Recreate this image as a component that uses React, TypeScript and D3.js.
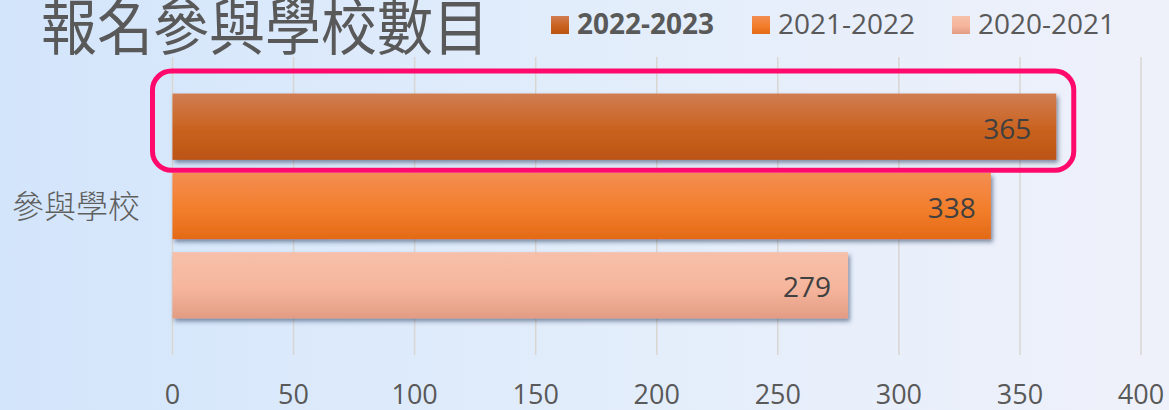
import React from "react";
import * as d3 from "d3";

const W = 1169;
const H = 410;

const title = "報名參與學校數目";
const category = "參與學校";
const seriesNames = ["2022-2023", "2021-2022", "2020-2021"];
const seriesValues = [365, 338, 279];
const xTicks = [0, 50, 100, 150, 200, 250, 300, 350, 400];
const seriesTop = ["#D17D52", "#F38D52", "#F7C0AA"];
const seriesMid = ["#C9621F", "#F37E2B", "#F5B59C"];
const seriesBottom = ["#BB5411", "#E36A16", "#E39C84"];
const labelInset = [25, 15, 17];
const legendX = [551, 752, 952];

export default function App() {
  const x = d3.scaleLinear().domain([0, 400]).range([172.5, 1141]);
  const y = d3
    .scaleBand<string>()
    .domain(seriesNames)
    .range([57, 355])
    .paddingInner(0.164)
    .paddingOuter(0.461);
  const bw = y.bandwidth();
  const firstY = y(seriesNames[0]) as number;
  const font = "'Open Sans', 'DejaVu Sans', sans-serif";
  const cjk = "'Noto Sans CJK TC', 'Noto Sans CJK SC', sans-serif";

  return (
    <svg
      width={W}
      height={H}
      style={{ position: "absolute", left: 0, top: 0, display: "block" }}
    >
      <defs>
        <linearGradient id="bg" x1="0" y1="0" x2="1" y2="0">
          <stop offset="0" stopColor="#D3E5FB" />
          <stop offset="0.5" stopColor="#E2EDFB" />
          <stop offset="1" stopColor="#EFF1FA" />
        </linearGradient>
        {seriesNames.map((s, i) => (
          <linearGradient key={s} id={`g${i}`} x1="0" y1="0" x2="0" y2="1">
            <stop offset="0" stopColor={seriesTop[i]} />
            <stop offset="0.55" stopColor={seriesMid[i]} />
            <stop offset="1" stopColor={seriesBottom[i]} />
          </linearGradient>
        ))}
        <filter id="shadow" x="-5%" y="-20%" width="110%" height="160%">
          <feDropShadow
            dx="2"
            dy="3"
            stdDeviation="2.2"
            floodColor="#2A3A5C"
            floodOpacity="0.55"
          />
        </filter>
      </defs>
      <rect x={0} y={0} width={W} height={H} fill="url(#bg)" />

      {/* gridlines */}
      {xTicks.map((t) => (
        <line
          key={t}
          x1={x(t)}
          x2={x(t)}
          y1={57}
          y2={355}
          stroke="#D9D6D2"
          strokeWidth={1.5}
        />
      ))}

      {/* bars */}
      {seriesNames.map((s, i) => (
        <rect
          key={s}
          x={x(0)}
          y={y(s) as number}
          width={x(seriesValues[i]) - x(0)}
          height={bw}
          fill={`url(#g${i})`}
          filter="url(#shadow)"
        />
      ))}

      {/* value labels */}
      {seriesNames.map((s, i) => (
        <text
          key={s}
          x={x(seriesValues[i]) - labelInset[i]}
          y={(y(s) as number) + bw / 2 + 12}
          textAnchor="end"
          fontFamily={font}
          fontSize={28}
          fill="#404040"
        >
          {seriesValues[i]}
        </text>
      ))}

      {/* highlight annotation around first bar */}
      <rect
        x={x(0) - 20}
        y={firstY - 22.5}
        width={x(seriesValues[0]) - x(0) + 37.5}
        height={bw + 33}
        rx={19}
        ry={19}
        fill="none"
        stroke="#FF0A6C"
        strokeWidth={5}
      />

      {/* x axis labels */}
      {xTicks.map((t) => (
        <text
          key={t}
          x={x(t)}
          y={404}
          textAnchor="middle"
          fontFamily={font}
          fontSize={27}
          fill="#595959"
        >
          {t}
        </text>
      ))}

      {/* category label */}
      <text
        x={140}
        y={(y.range()[0] + y.range()[1]) / 2 + 12}
        textAnchor="end"
        fontFamily={cjk}
        fontSize={32}
        fontWeight={300}
        fill="#5F5F5F"
      >
        {category}
      </text>

      {/* title */}
      <g transform="translate(41,50) scale(1,1.1)">
        <text
          x={0}
          y={0}
          fontFamily={cjk}
          fontSize={56}
          fontWeight={400}
          fill="#595959"
        >
          {title}
        </text>
      </g>

      {/* legend */}
      {seriesNames.map((s, i) => (
        <g key={s}>
          <rect
            x={legendX[i]}
            y={16}
            width={18}
            height={18}
            fill={`url(#g${i})`}
          />
          <text
            x={legendX[i] + 26}
            y={34}
            fontFamily={font}
            fontSize={28}
            fontWeight={i === 0 ? 700 : 400}
            fill="#595959"
          >
            {s}
          </text>
        </g>
      ))}
    </svg>
  );
}
